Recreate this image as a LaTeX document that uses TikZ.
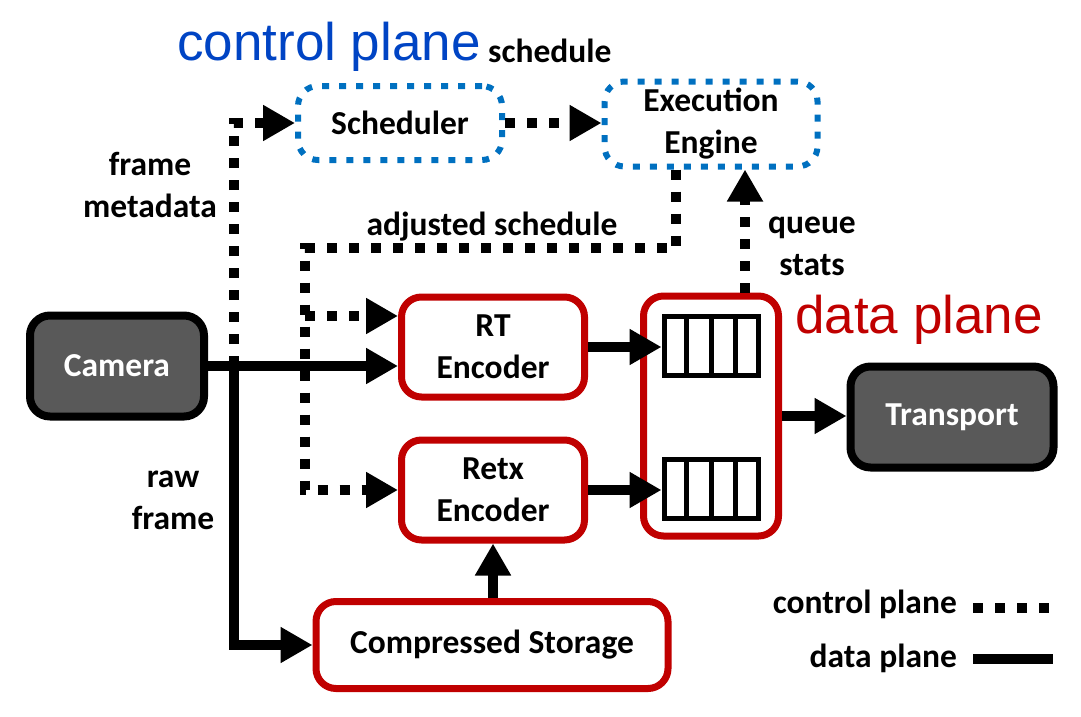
\documentclass[tikz,border=0pt]{standalone}
\usepackage{fontspec}
\setmainfont{Carlito}
\newfontfamily\arialfont{Liberation Sans}
\usetikzlibrary{arrows.meta,calc}

\definecolor{ctrlblue}{HTML}{0070C0}
\definecolor{ctrltext}{HTML}{0044C4}
\definecolor{datared}{HTML}{C00000}
\definecolor{boxgray}{HTML}{595959}

\tikzset{
  lbl/.style={font=\fontsize{33.5}{42}\selectfont\bfseries, align=center, inner sep=0pt},
  darkbox/.style={lbl, draw=black, line width=8pt, fill=boxgray, text=white, rounded corners=20pt},
  redbox/.style={lbl, draw=datared, line width=7pt, fill=white, rounded corners=20pt},
  bluebox/.style={lbl, draw=ctrlblue, line width=6pt, dash pattern=on 7pt off 10pt, rounded corners=20pt},
  dataarrow/.style={line width=10pt, -{Triangle[length=32pt,width=34pt]}},
  ctrlarrow/.style={line width=10pt, dash pattern=on 10pt off 12pt, -{Triangle[length=32pt,width=34pt]}},
  queuebox/.style={draw, line width=5pt, minimum width=94pt, minimum height=59pt, inner sep=0pt},
  bigtext/.style={font=\fontsize{53}{60}\selectfont\arialfont, inner sep=0pt, anchor=base west},
}

\begin{document}
\begin{tikzpicture}[x=1pt,y=-1pt]
  \useasboundingbox (0,0) rectangle (1081,717);

  % boxes
  \node[darkbox, minimum width=174pt, minimum height=101pt] (camera) at (117,366) {Camera};
  \node[darkbox, minimum width=203pt, minimum height=101pt] (transport) at (952,417) {Transport};
  \node[bluebox, minimum width=204pt, minimum height=74pt] (sched) at (400,123) {Scheduler};
  \node[bluebox, minimum width=213pt, minimum height=85pt] (exec) at (711,124) {Execution\\Engine};
  \node[redbox, minimum width=183pt, minimum height=100pt] (rtenc) at (493,347) {RT\\Encoder};
  \node[redbox, minimum width=183pt, minimum height=100pt] (retx) at (493,490) {Retx\\Encoder};
  \node[redbox, minimum width=352pt, minimum height=87pt] (storage) at (492,645) {Compressed Storage};
  \node[redbox, minimum width=135pt, minimum height=240pt] (qbox) at (711,416) {};

  % queues
  \node[queuebox] (q1) at (711,346) {};
  \node[queuebox] (q2) at (711,489) {};
  \foreach \q in {q1,q2}
    \foreach \i in {1,2,3}
      \draw[line width=5pt] ($(\q.north west)!\i/4!(\q.north east)$) -- ($(\q.south west)!\i/4!(\q.south east)$);

  % data plane
  \coordinate (split) at (234,366);
  \draw[dataarrow] (camera.east) -- (camera.east -| rtenc.west);
  \draw[dataarrow] (split) |- (storage.west);
  \draw[dataarrow] (storage.north -| retx.south) -- (retx.south);
  \draw[dataarrow] (rtenc.east) -- (rtenc.east -| q1.west);
  \draw[dataarrow] (retx.east) -- (retx.east -| q2.west);
  \draw[dataarrow] (qbox.east) -- (qbox.east -| transport.west);

  % control plane
  \coordinate (adj) at (305,248);
  \draw[ctrlarrow] (split) |- (sched.west);
  \draw[ctrlarrow] (sched.east) -- (sched.east -| exec.west);
  \draw[ctrlarrow] ($(exec.south)+(-35,0)$) |- (adj) |- (retx.west);
  \draw[ctrlarrow] ($(adj |- rtenc.west)+(0,-31)$) -- ($(rtenc.west)+(0,-31)$);
  \draw[ctrlarrow] ($(qbox.north)+(34,0)$) -- ($(exec.south)+(34,0)$);

  % labels
  \node[bigtext, text=ctrltext] (ctrllabel) at (177,60) {control plane};
  \node[bigtext, text=datared] (datalabel) at (795,333) {data plane};
  \node[lbl, anchor=base west] (schedlabel) at (488,63) {schedule};
  \node[lbl, anchor=base] (adjlabel) at (492,235) {adjusted schedule};
  \node[lbl] (metalabel) at (150,185) {frame\\metadata};
  \node[lbl] (rawlabel) at (173,500) {raw\\frame};
  \node[lbl] (statslabel) at (812,246) {queue\\stats};

  % legend
  \node[lbl, anchor=base east] (legctrl) at (957,613) {control plane};
  \node[lbl, anchor=base east] (legdata) at (957,667) {data plane};
  \draw[line width=10pt, dash pattern=on 10pt off 12pt] (973,608) -- (1053,608);
  \draw[line width=10pt] (973,659) -- (1053,659);
\end{tikzpicture}
\end{document}
